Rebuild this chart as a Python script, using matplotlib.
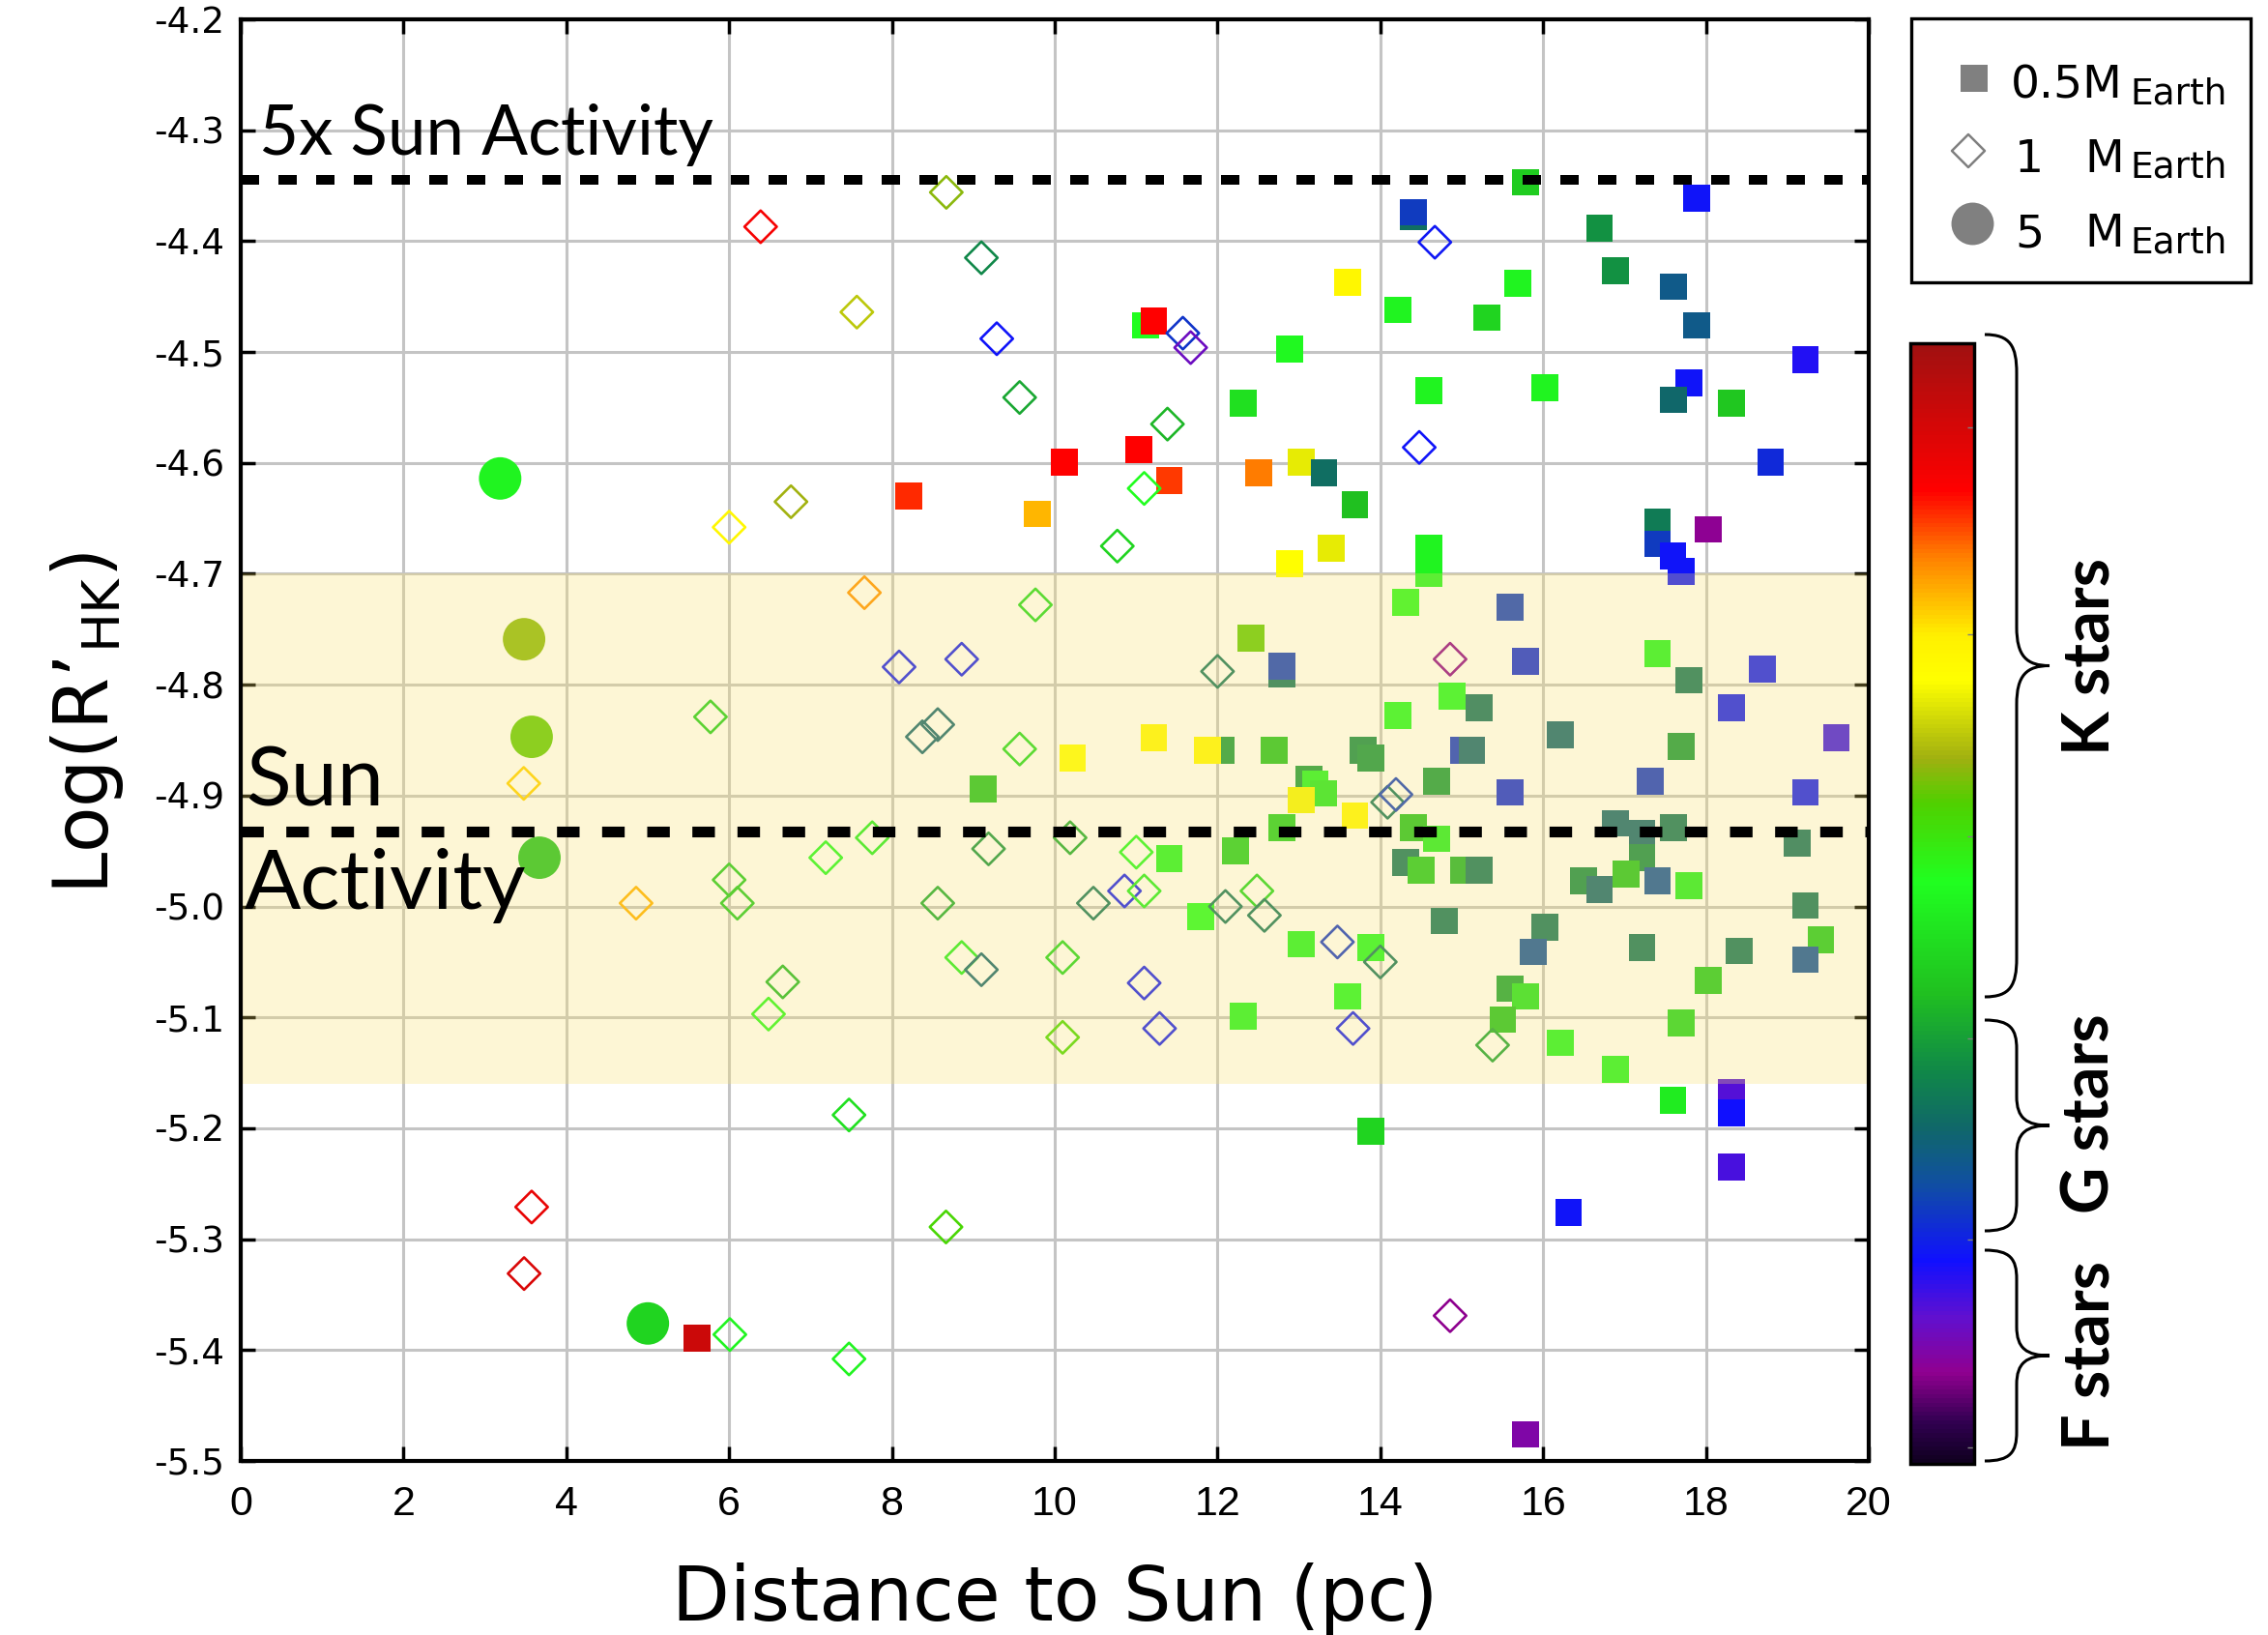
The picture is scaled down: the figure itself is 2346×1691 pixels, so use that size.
import numpy as np
import matplotlib
matplotlib.use("Agg")
import matplotlib.pyplot as plt
from matplotlib.colors import LinearSegmentedColormap, Normalize
from matplotlib.path import Path
from matplotlib.patches import PathPatch, Rectangle
import matplotlib.cm as cm

plt.rcParams['axes.unicode_minus'] = False

# --- data: distance (pc), log R'HK, colour value (0 = F ... 1 = late K) ---
# 0.5 M_Earth planets (filled squares)
sq_x = [11.12, 11.218, 12.883, 12.312, 10.123, 11.029, 11.407, 12.505, 13.033, 13.308,
        8.207, 9.785, 15.786, 17.884, 14.406, 14.406, 16.692, 16.884, 13.594, 14.214,
        15.692, 15.313, 17.598, 17.884, 19.223, 14.594, 16.022, 17.79, 17.598, 18.317,
        18.795, 13.688, 13.397, 14.594, 14.594, 17.406, 17.406, 17.594, 17.692, 18.027,
        12.883, 12.409, 12.791, 12.791, 10.22, 11.218, 12.044, 11.881, 12.695, 9.121,
        13.121, 13.2, 13.3, 13.033, 12.791, 11.407, 12.22, 11.789, 13.033, 12.312,
        14.308, 15.598, 15.786, 17.406, 17.79, 18.696, 14.879, 15.214, 14.214, 18.317,
        16.214, 13.786, 13.879, 15.027, 15.125, 19.603, 17.692, 14.692, 15.598, 17.313,
        19.223, 13.688, 14.406, 14.692, 16.884, 17.214, 17.598, 17.214, 17.022, 16.5,
        16.692, 17.406, 17.79, 19.125, 14.308, 14.5, 15.027, 15.214, 19.223, 19.411,
        19.223, 14.79, 16.022, 15.879, 17.214, 18.411, 13.879, 13.598, 15.598, 15.786,
        15.504, 18.027, 17.692, 16.214, 16.884, 17.594, 18.317, 18.317, 13.879, 18.317,
        16.313, 15.786, 5.604]
sq_y = [-4.476, -4.472, -4.497, -4.546, -4.599, -4.588, -4.616, -4.609, -4.599, -4.609,
        -4.630, -4.646, -4.347, -4.361, -4.378, -4.374, -4.388, -4.427, -4.437, -4.462,
        -4.438, -4.469, -4.441, -4.476, -4.507, -4.535, -4.532, -4.528, -4.543, -4.546,
        -4.599, -4.638, -4.677, -4.677, -4.700, -4.653, -4.673, -4.684, -4.698, -4.660,
        -4.691, -4.758, -4.790, -4.783, -4.866, -4.848, -4.859, -4.859, -4.859, -4.894,
        -4.885, -4.890, -4.898, -4.904, -4.929, -4.957, -4.950, -5.009, -5.034, -5.099,
        -4.726, -4.730, -4.779, -4.772, -4.796, -4.786, -4.810, -4.821, -4.828, -4.821,
        -4.845, -4.859, -4.866, -4.859, -4.859, -4.848, -4.856, -4.887, -4.897, -4.887,
        -4.897, -4.918, -4.929, -4.939, -4.925, -4.934, -4.929, -4.956, -4.971, -4.977,
        -4.985, -4.977, -4.981, -4.943, -4.960, -4.967, -4.967, -4.967, -4.999, -5.030,
        -5.048, -5.013, -5.019, -5.041, -5.037, -5.040, -5.037, -5.081, -5.074, -5.081,
        -5.102, -5.067, -5.105, -5.123, -5.147, -5.175, -5.168, -5.186, -5.203, -5.235,
        -5.276, -5.476, -5.389]
sq_c = [0.52, 0.87, 0.51, 0.47, 0.87, 0.87, 0.84, 0.81, 0.68, 0.31,
        0.85, 0.775, 0.44, 0.185, 0.31, 0.23, 0.36, 0.36, 0.72, 0.50,
        0.50, 0.45, 0.27, 0.27, 0.17, 0.50, 0.50, 0.185, 0.30, 0.43,
        0.21, 0.42, 0.68, 0.50, 0.50, 0.33, 0.23, 0.185, 0.185, 0.085,
        0.70, 0.60, 0.32, 0.23, 0.70, 0.72, 0.37, 0.72, 0.42, 0.42,
        0.37, 0.50, 0.48, 0.69, 0.44, 0.50, 0.44, 0.52, 0.50, 0.50,
        0.53, 0.23, 0.21, 0.50, 0.32, 0.19, 0.51, 0.31, 0.51, 0.19,
        0.29, 0.35, 0.36, 0.22, 0.29, 0.155, 0.37, 0.37, 0.21, 0.22,
        0.19, 0.72, 0.42, 0.49, 0.29, 0.29, 0.32, 0.35, 0.42, 0.35,
        0.29, 0.25, 0.49, 0.31, 0.32, 0.43, 0.40, 0.32, 0.32, 0.43,
        0.25, 0.32, 0.32, 0.25, 0.32, 0.32, 0.51, 0.51, 0.38, 0.47,
        0.42, 0.43, 0.45, 0.50, 0.50, 0.49, 0.14, 0.18, 0.45, 0.145,
        0.185, 0.10, 0.94]

# 1 M_Earth planets (open diamonds)
dm_x = [6.387, 6.76, 8.668, 9.099, 7.569, 9.288, 9.569, 11.574, 11.67, 11.385,
        11.099, 14.67, 14.478, 6.0, 3.477, 5.771, 4.857, 6.0, 6.101, 6.659,
        6.484, 3.574, 3.481, 6.009, 7.473, 8.664, 7.473, 10.097, 11.099, 11.288,
        7.662, 9.763, 10.769, 12.0, 8.088, 8.857, 8.374, 8.563, 9.569, 7.758,
        7.187, 9.187, 10.189, 11.002, 8.563, 10.475, 10.857, 11.099, 12.097, 12.484,
        12.576, 8.857, 9.099, 10.097, 14.857, 14.089, 14.192, 13.473, 14.0, 13.665,
        15.379, 14.857]
dm_y = [-4.387, -4.635, -4.356, -4.415, -4.464, -4.488, -4.541, -4.483, -4.496, -4.565,
        -4.623, -4.401, -4.586, -4.658, -4.889, -4.829, -4.997, -4.976, -4.997, -5.068,
        -5.097, -5.271, -5.331, -5.386, -5.188, -5.289, -5.408, -5.118, -5.069, -5.110,
        -4.717, -4.728, -4.675, -4.788, -4.784, -4.777, -4.847, -4.836, -4.858, -4.938,
        -4.956, -4.948, -4.938, -4.951, -4.997, -4.997, -4.986, -4.986, -5.000, -4.986,
        -5.008, -5.046, -5.057, -5.046, -4.777, -4.906, -4.899, -5.032, -5.050, -5.110,
        -5.125, -5.369]
dm_c = [0.88, 0.63, 0.62, 0.35, 0.65, 0.185, 0.39, 0.22, 0.12, 0.41,
        0.52, 0.19, 0.185, 0.72, 0.76, 0.44, 0.78, 0.43, 0.43, 0.41,
        0.53, 0.90, 0.92, 0.50, 0.47, 0.58, 0.50, 0.58, 0.19, 0.19,
        0.80, 0.46, 0.45, 0.32, 0.19, 0.19, 0.29, 0.29, 0.46, 0.49,
        0.51, 0.36, 0.39, 0.51, 0.39, 0.32, 0.19, 0.49, 0.32, 0.45,
        0.32, 0.49, 0.29, 0.45, 0.08, 0.32, 0.23, 0.22, 0.32, 0.19,
        0.38, 0.08]

# 5 M_Earth planets (filled circles)
ci_x = [3.187, 3.481, 3.574, 3.67, 5.002]
ci_y = [-4.614, -4.759, -4.847, -4.956, -5.376]
ci_c = [0.50, 0.62, 0.60, 0.42, 0.45]

sun_level = -4.932
sun5_level = -4.345
band_lo, band_hi = -5.16, -4.70

# colour scale of the colour bar
cmap_pos = [0.0, 0.035, 0.08, 0.13, 0.18, 0.25, 0.30, 0.35, 0.42, 0.52,
            0.59, 0.63, 0.70, 0.74, 0.81, 0.87, 1.0]
cmap_col = ['#100020', '#300050', '#900090', '#6010d0', '#1010ff', '#1050a0', '#106868',
            '#108848', '#20c020', '#20ff20', '#50d000', '#a0b010', '#ffff00', '#fff000',
            '#ff8000', '#ff0000', '#a01010']
cmap = LinearSegmentedColormap.from_list('startype', list(zip(cmap_pos, cmap_col)))

W, H = 2346, 1691
fig = plt.figure(figsize=(W / 100, H / 100), dpi=100)
ax = fig.add_axes([249 / W, 1 - 1511 / H, (1933 - 249) / W, (1511 - 20) / H])

ax.set_axisbelow(True)
ax.grid(True, color='#c4c4c4', lw=2.2)

ax.scatter(sq_x, sq_y, c=sq_c, cmap=cmap, vmin=0, vmax=1, marker='s', s=400,
           linewidths=0, zorder=3)
ax.scatter(dm_x, dm_y, marker='D', s=290, facecolors='none',
           edgecolors=cmap(np.array(dm_c)), linewidths=1.9, zorder=3.5)
ax.scatter(ci_x, ci_y, c=ci_c, cmap=cmap, vmin=0, vmax=1, marker='o', s=1000,
           linewidths=0, zorder=3)

# translucent "solar-like activity" band laid over grid and points
ax.axhspan(band_lo, band_hi, color='#fbe269', alpha=0.28, zorder=3.8, lw=0)

ax.axhline(sun5_level, color='k', lw=7.2, ls=(0, (1.9, 2.0)), zorder=4)
ax.axhline(sun_level, color='k', lw=8.0, ls=(0, (2.1, 2.1)), zorder=4)

ax.text(0.22, -4.322, '5x Sun Activity', family='Lato', fontsize=51, va='baseline', zorder=5)
ax.text(0.066, -4.9096, 'Sun', family='Lato', fontsize=62, va='baseline', zorder=5)
ax.text(0.04, -5.002, 'Activity', family='Lato', fontsize=62, va='baseline', zorder=5)

ax.set_xlim(0, 20)
ax.set_ylim(-5.5, -4.2)
ax.set_xticks(np.arange(0, 21, 2))
yt = np.round(np.arange(-5.5, -4.15, 0.1), 1)
ax.set_yticks(yt, labels=[f'{v:.1f}' for v in yt])
ax.tick_params(which='both', direction='in', top=True, right=True, length=11, width=2.5)
ax.tick_params(axis='x', labelsize=31, pad=18, labelfontfamily='Liberation Sans')
ax.tick_params(axis='y', labelsize=27, pad=12)
for sp in ax.spines.values():
    sp.set_linewidth(3)
    sp.set_zorder(6)

ax.set_xlabel('Distance to Sun (pc)', fontsize=56)
ax.xaxis.set_label_coords(0.5, -0.0704)
ax.set_ylabel('Log(R’$_{\\mathrm{HK}}$)', fontsize=56)
ax.yaxis.set_label_coords(-0.0707, 0.512)

# colour bar
cax = fig.add_axes([1976 / W, 1 - 1514 / H, 66 / W, (1514 - 355) / H])
sm = cm.ScalarMappable(norm=Normalize(0, 1), cmap=cmap)
cb = fig.colorbar(sm, cax=cax)
cb.set_ticks([0.015, 0.2, 0.38, 0.56, 0.74, 0.925])
cb.ax.tick_params(direction='in', length=5, width=1, color='0.5', labelright=False)
cb.outline.set_linewidth(2.5)

# overlay in pixel coordinates for legend box and braces
ov = fig.add_axes([0, 0, 1, 1])
ov.set_xlim(0, W)
ov.set_ylim(H, 0)
ov.axis('off')
ov.patch.set_alpha(0)

ov.add_patch(Rectangle((1977, 19), 351, 273, fill=False, lw=2.4, ec='k'))
ov.scatter([2042], [81], marker='s', s=400, color='#808080', linewidths=0)
ov.scatter([2036], [156], marker='D', s=300, facecolors='none', edgecolors='#808080',
           linewidths=1.8)
ov.scatter([2040], [231], marker='o', s=1000, color='#808080', linewidths=0)
ov.text(2080, 102, '0.5M', fontsize=34, va='baseline')
ov.text(2084, 178, '1', fontsize=34, va='baseline')
ov.text(2156, 178, 'M', fontsize=34, va='baseline')
ov.text(2084, 255, '5', fontsize=34, va='baseline')
ov.text(2156, 255, 'M', fontsize=34, va='baseline')
for yb in [108, 184, 261]:
    ov.text(2203, yb, 'Earth', fontsize=27, va='baseline')


def brace(x0, y0, y1, xb, xt, r):
    ym = (y0 + y1) / 2
    verts = [(x0, y0),
             (x0 + (xb - x0) * 0.8, y0), (xb, y0 + r * 0.3), (xb, y0 + r),
             (xb, ym - r),
             (xb, ym - r * 0.25), (xb + (xt - xb) * 0.3, ym), (xt, ym),
             (xb + (xt - xb) * 0.3, ym), (xb, ym + r * 0.25), (xb, ym + r),
             (xb, y1 - r),
             (xb, y1 - r * 0.3), (x0 + (xb - x0) * 0.8, y1), (x0, y1)]
    codes = [Path.MOVETO] + [Path.CURVE4] * 3 + [Path.LINETO] + [Path.CURVE4] * 6 + \
            [Path.LINETO] + [Path.CURVE4] * 3
    ov.add_patch(PathPatch(Path(verts, codes), fill=False, lw=2.2, ec='k'))


brace(2053, 346, 1031, 2086, 2120, 40)
brace(2053, 1055, 1273, 2086, 2120, 30)
brace(2053, 1293, 1511, 2086, 2120, 30)
for lab, yc in [('K stars', 679), ('G stars', 1152), ('F stars', 1402)]:
    ov.text(2162, yc, lab, family='Lato', weight='bold', fontsize=48, rotation=90,
            ha='center', va='center')

fig.savefig('out.png', dpi=100)
